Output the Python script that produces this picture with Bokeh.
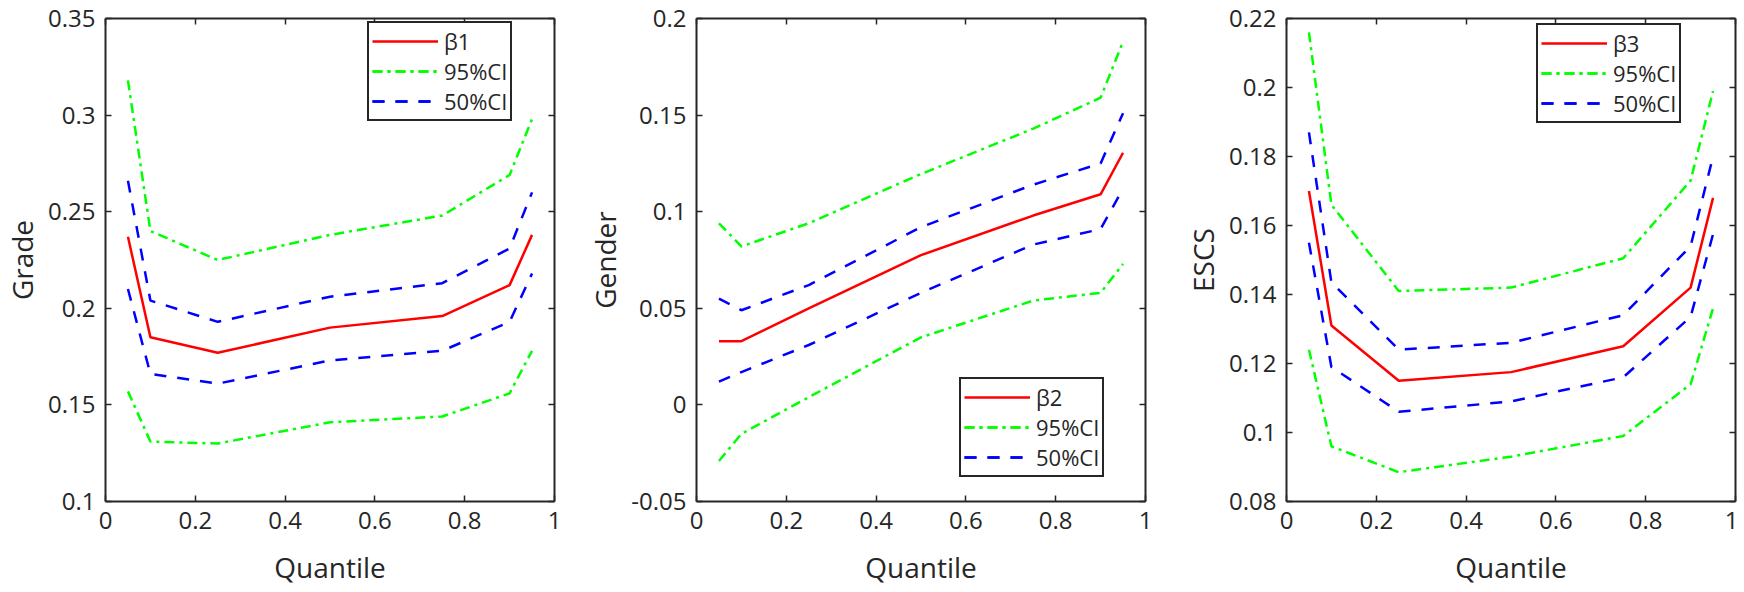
from bokeh.plotting import figure
from bokeh.models import Range1d, FixedTicker, LinearAxis, Legend, LegendItem
from bokeh.layouts import row
from bokeh.embed import file_html
from bokeh.resources import INLINE

# ---------------- data ----------------
quantiles = [0.05, 0.1, 0.25, 0.5, 0.75, 0.9, 0.95]

grade_beta = [0.237, 0.185, 0.177, 0.190, 0.196, 0.212, 0.238]
grade_ci95_upper = [0.318, 0.240, 0.225, 0.238, 0.248, 0.269, 0.298]
grade_ci95_lower = [0.157, 0.131, 0.130, 0.141, 0.144, 0.156, 0.178]
grade_ci50_upper = [0.266, 0.204, 0.193, 0.206, 0.213, 0.231, 0.260]
grade_ci50_lower = [0.210, 0.166, 0.161, 0.173, 0.178, 0.193, 0.218]

gender_beta = [0.033, 0.033, 0.050, 0.0775, 0.098, 0.109, 0.1305]
gender_ci95_upper = [0.094, 0.082, 0.094, 0.1195, 0.143, 0.159, 0.188]
gender_ci95_lower = [-0.029, -0.015, 0.004, 0.035, 0.054, 0.058, 0.073]
gender_ci50_upper = [0.055, 0.049, 0.062, 0.092, 0.114, 0.125, 0.151]
gender_ci50_lower = [0.012, 0.017, 0.031, 0.058, 0.083, 0.091, 0.112]

escs_beta = [0.170, 0.131, 0.115, 0.1175, 0.125, 0.142, 0.168]
escs_ci95_upper = [0.216, 0.166, 0.141, 0.142, 0.1505, 0.173, 0.199]
escs_ci95_lower = [0.124, 0.096, 0.0885, 0.093, 0.099, 0.114, 0.136]
escs_ci50_upper = [0.187, 0.1435, 0.124, 0.126, 0.134, 0.154, 0.180]
escs_ci50_lower = [0.155, 0.119, 0.106, 0.109, 0.116, 0.1335, 0.1575]

x_ticks = [0, 0.2, 0.4, 0.6, 0.8, 1]
x_tick_labels = ["0", "0.2", "0.4", "0.6", "0.8", "1"]
grade_yticks = [0.1, 0.15, 0.2, 0.25, 0.3, 0.35]
grade_ytick_labels = ["0.1", "0.15", "0.2", "0.25", "0.3", "0.35"]
gender_yticks = [-0.05, 0, 0.05, 0.1, 0.15, 0.2]
gender_ytick_labels = ["-0.05", "0", "0.05", "0.1", "0.15", "0.2"]
escs_yticks = [0.08, 0.1, 0.12, 0.14, 0.16, 0.18, 0.2, 0.22]
escs_ytick_labels = ["0.08", "0.1", "0.12", "0.14", "0.16", "0.18", "0.2", "0.22"]

y_labels = ["Grade", "Gender", "ESCS"]
beta_labels = ["β1", "β2", "β3"]
x_label = "Quantile"

# ---------------- style ----------------
FONT = "Open Sans"
AX = "#262626"
RED, GREEN, BLUE = "#FF0000", "#00FF00", "#0000FF"
LW = 2.5


def style_axis(ax, ticks, labels, show_labels=True):
    ax.ticker = FixedTicker(ticks=ticks)
    ax.axis_line_color = AX
    ax.axis_line_width = 2
    ax.major_tick_line_color = AX
    ax.major_tick_line_width = 1.5
    ax.major_tick_in = 6
    ax.major_tick_out = 0
    ax.minor_tick_line_color = None
    if show_labels:
        ax.major_label_overrides = {t: l for t, l in zip(ticks, labels)}
        ax.major_label_text_font = FONT
        ax.major_label_text_font_size = "24px"
        ax.major_label_text_color = AX
    else:
        ax.major_label_text_font_size = "0px"
        ax.major_label_standoff = 0
        ax.major_label_text_alpha = 0


def panel(ylabel, blabel, beta, u95, l95, u50, l50, yticks, ytlabels,
          lb, rb, legend_loc):
    p = figure(frame_width=449, frame_height=483,
               x_range=Range1d(0, 1), y_range=Range1d(yticks[0], yticks[-1]),
               output_backend="svg", toolbar_location=None,
               min_border_left=lb, min_border_right=rb,
               min_border_top=18, min_border_bottom=75,
               background_fill_color="white", border_fill_color="white")
    p.outline_line_color = None
    p.xgrid.visible = False
    p.ygrid.visible = False

    xa = p.xaxis[0]
    style_axis(xa, x_ticks, x_tick_labels)
    xa.major_label_standoff = 10
    xa.axis_label = x_label
    xa.axis_label_text_font = FONT
    xa.axis_label_text_font_size = "28px"
    xa.axis_label_text_font_style = "normal"
    xa.axis_label_text_color = AX
    xa.axis_label_standoff = 16

    ya = p.yaxis[0]
    style_axis(ya, yticks, ytlabels)
    ya.major_label_standoff = 10
    ya.axis_label = ylabel
    ya.axis_label_text_font = FONT
    ya.axis_label_text_font_size = "28px"
    ya.axis_label_text_font_style = "normal"
    ya.axis_label_text_color = AX
    ya.axis_label_standoff = 4

    top = LinearAxis()
    style_axis(top, x_ticks, x_tick_labels, show_labels=False)
    p.add_layout(top, "above")
    right = LinearAxis()
    style_axis(right, yticks, ytlabels, show_labels=False)
    p.add_layout(right, "right")

    r_beta = p.line(quantiles, beta, line_color=RED, line_width=LW)
    r_u95 = p.line(quantiles, u95, line_color=GREEN, line_width=LW, line_dash="10 5 3 5")
    r_l95 = p.line(quantiles, l95, line_color=GREEN, line_width=LW, line_dash="10 5 3 5")
    r_u50 = p.line(quantiles, u50, line_color=BLUE, line_width=LW, line_dash="12 11")
    r_l50 = p.line(quantiles, l50, line_color=BLUE, line_width=LW, line_dash="12 11")

    legend = Legend(items=[
        LegendItem(label=blabel, renderers=[r_beta]),
        LegendItem(label="95%CI", renderers=[r_u95, r_l95]),
        LegendItem(label="50%CI", renderers=[r_u50, r_l50]),
    ], location=legend_loc)
    legend.label_text_font = FONT
    legend.label_text_font_size = "22px"
    legend.label_text_color = AX
    legend.border_line_color = AX
    legend.border_line_width = 2
    legend.border_line_alpha = 1
    legend.background_fill_color = "white"
    legend.background_fill_alpha = 1
    legend.padding = 3
    legend.spacing = -3
    legend.margin = 0
    legend.glyph_width = 66
    legend.glyph_height = 20
    legend.label_height = 20
    legend.label_standoff = 6
    p.add_layout(legend)
    return p


p1 = panel(y_labels[0], beta_labels[0], grade_beta, grade_ci95_upper, grade_ci95_lower,
           grade_ci50_upper, grade_ci50_lower, grade_yticks, grade_ytick_labels,
           95, 12, (262, 380))
p2 = panel(y_labels[1], beta_labels[1], gender_beta, gender_ci95_upper, gender_ci95_lower,
           gender_ci50_upper, gender_ci50_lower, gender_yticks, gender_ytick_labels,
           130, 12, (263, 24))
p3 = panel(y_labels[2], beta_labels[2], escs_beta, escs_ci95_upper, escs_ci95_lower,
           escs_ci50_upper, escs_ci50_lower, escs_yticks, escs_ytick_labels,
           129, 3, (250, 378))

layout = row(p1, p2, p3, spacing=0)

with open("out.html", "w") as f:
    f.write(file_html(layout, INLINE))
